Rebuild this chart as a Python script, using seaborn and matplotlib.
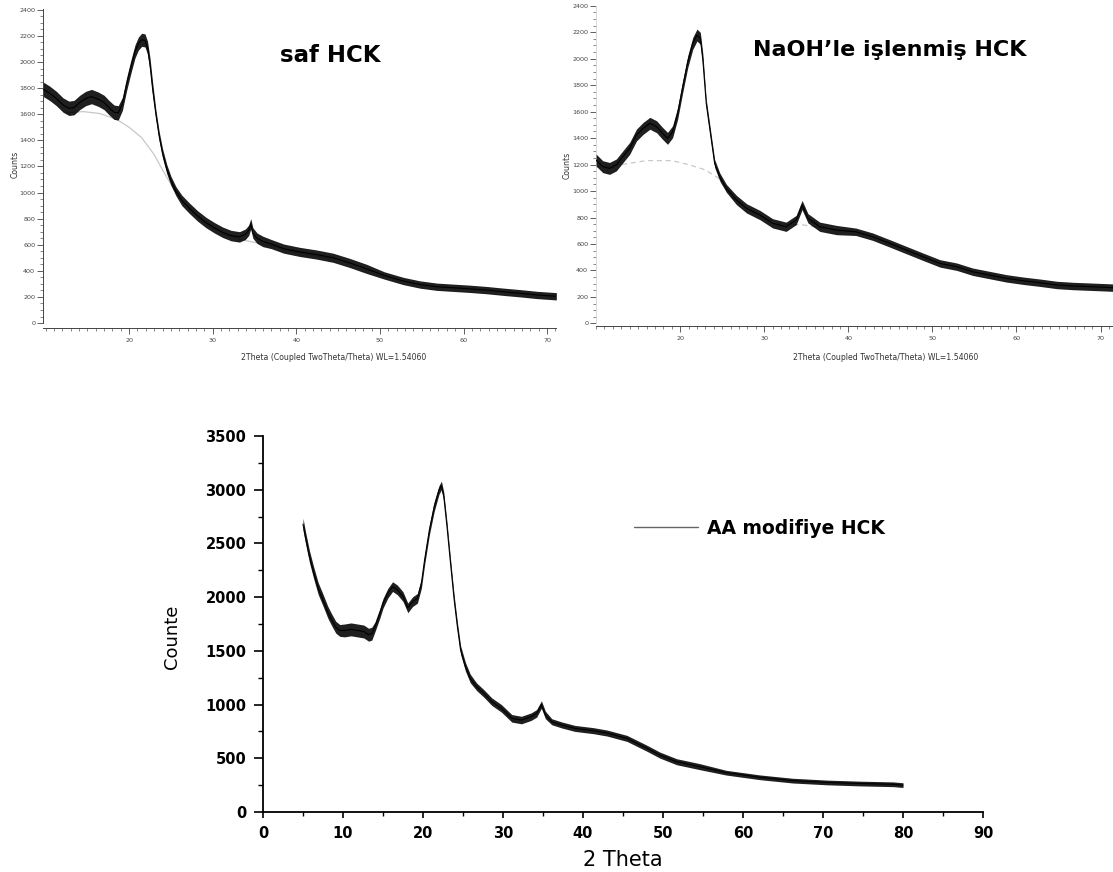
import numpy as np
import pandas as pd
import matplotlib
matplotlib.use("Agg")
import matplotlib.pyplot as plt
import seaborn as sns
from matplotlib.ticker import MultipleLocator, FixedLocator

sns.set_theme(style="white")
plt.rcParams["font.family"] = ["DejaVu Sans"]
plt.rcParams["text.color"] = "black"

# ---------------- data: saf HCK (top left) ----------------
tt_saf = [9.75, 10.5, 11.3, 12.1, 12.8, 13.4, 14.1, 14.8, 15.5, 16.3,
          17.0, 17.6, 18.2, 18.7, 19.2, 19.7, 20.2, 20.7, 21.1, 21.5,
          21.9, 22.2, 22.5, 22.8, 23.2, 23.6, 24.0, 24.5, 25.0, 25.6,
          26.3, 27.2, 28.2, 29.2, 30.2, 31.2, 32.2, 33.2, 33.9, 34.3,
          34.55, 34.8, 35.3, 36.0, 37.0, 38.5, 40.4, 42.4, 44.4, 46.4,
          48.4, 50.5, 52.8, 54.8, 56.8, 58.8, 60.8, 62.8, 64.7, 66.8,
          68.8, 71.1]
counts_saf = [1790, 1760, 1720, 1670, 1645, 1650, 1690, 1720, 1735, 1715,
              1690, 1650, 1615, 1610, 1680, 1830, 1960, 2080, 2140, 2170,
              2165, 2110, 1980, 1800, 1600, 1430, 1300, 1180, 1090, 1010,
              940, 880, 820, 770, 730, 695, 670, 660, 680, 710,
              760, 690, 650, 625, 605, 570, 545, 525, 500, 460,
              415, 365, 322, 295, 278, 270, 262, 252, 240, 228,
              215, 205]
noise_saf = [55, 55, 55, 55, 55, 55, 55, 55, 55, 55,
             55, 55, 55, 55, 50, 50, 50, 50, 50, 50,
             50, 50, 50, 50, 35, 35, 35, 35, 35, 35,
             40, 40, 40, 40, 40, 40, 40, 40, 40, 40,
             40, 40, 40, 40, 35, 35, 35, 35, 35, 35,
             35, 28, 28, 28, 28, 28, 28, 28, 28, 28,
             28, 28]
base_tt_saf = [12.5, 14.5, 16.5, 18.5, 20.0, 21.5, 23.0, 24.2, 25.5, 27.0,
               29.0, 31.0, 33.0, 35.0, 37.0, 40.0, 44.0]
base_saf = [1610, 1620, 1605, 1560, 1500, 1420, 1290, 1150, 1010, 890,
            770, 690, 645, 618, 590, 540, 495]

# ---------------- data: NaOH'le islenmis HCK (top right) ----------------
tt_naoh = [10.0, 10.8, 11.6, 12.4, 13.2, 14.0, 14.8, 15.6, 16.4, 17.2,
           17.9, 18.5, 19.1, 19.7, 20.3, 20.9, 21.5, 22.0, 22.4, 22.7,
           23.1, 23.6, 24.1, 24.7, 25.5, 26.7, 27.9, 29.5, 31.0, 32.6,
           33.8, 34.5, 35.2, 36.6, 38.6, 40.9, 42.9, 44.9, 46.9, 48.9,
           50.9, 52.9, 54.8, 56.8, 58.8, 60.8, 62.8, 64.8, 66.8, 68.8,
           70.7, 71.45]
counts_naoh = [1234, 1184, 1171, 1197, 1260, 1323, 1423, 1474, 1512, 1486,
               1436, 1398, 1448, 1587, 1788, 1977, 2116, 2179, 2154, 1990,
               1663, 1436, 1209, 1108, 1020, 932, 869, 818, 756, 730,
               781, 894, 794, 730, 705, 692, 655, 605, 554, 503,
               453, 428, 390, 365, 340, 322, 307, 290, 282, 277,
               272, 270]
noise_naoh = [45, 45, 45, 45, 45, 45, 45, 45, 45, 45,
              45, 45, 45, 45, 45, 45, 45, 45, 45, 45,
              30, 30, 30, 30, 30, 35, 35, 35, 35, 35,
              35, 35, 35, 35, 35, 28, 28, 28, 28, 28,
              28, 28, 28, 28, 28, 28, 28, 28, 28, 28,
              28, 28]
base_tt_naoh = [10, 13, 16, 19, 21, 23, 24.5, 26, 28, 30, 32, 34.5, 37, 40]
base_naoh = [1180, 1200, 1230, 1230, 1200, 1160, 1100, 960, 860, 800, 750, 745, 720, 690]

# ---------------- data: AA modifiye HCK (bottom) ----------------
tt_aa = [5.0, 5.3, 5.8, 6.3, 6.9, 7.5, 8.1, 8.6, 9.1, 9.6,
         10.2, 11.0, 11.8, 12.6, 13.2, 13.6, 14.0, 14.6, 15.0, 15.6,
         16.2, 16.8, 17.5, 18.1, 18.7, 19.3, 19.8, 20.2, 20.8, 21.4,
         22.0, 22.3, 22.6, 23.0, 23.4, 23.9, 24.3, 24.7, 25.3, 25.9,
         26.7, 27.6, 28.6, 29.8, 31.1, 32.3, 33.5, 34.2, 34.8, 35.3,
         36.1, 37.4, 39.0, 41.3, 43.0, 45.5, 48.0, 49.6, 51.7, 54.6,
         57.9, 62.1, 66.2, 70.5, 74.6, 78.8, 80.0]
counts_aa = [2680, 2560, 2380, 2236, 2080, 1973, 1860, 1787, 1720, 1690,
             1690, 1700, 1690, 1680, 1650, 1660, 1724, 1849, 1942, 2036,
             2098, 2067, 2005, 1900, 1958, 1989, 2129, 2346, 2626, 2843,
             2998, 3040, 2936, 2657, 2346, 1973, 1725, 1508, 1353, 1244,
             1166, 1104, 1027, 965, 872, 856, 887, 918, 1000, 903,
             840, 809, 778, 757, 735, 685, 593, 530, 468, 422,
             366, 323, 292, 275, 265, 258, 250]
noise_aa = [55, 55, 55, 55, 55, 55, 55, 55, 55, 55,
            60, 60, 60, 60, 60, 60, 45, 45, 45, 45,
            45, 45, 45, 45, 45, 45, 45, 45, 45, 45,
            40, 40, 40, 40, 40, 40, 40, 40, 40, 40,
            35, 35, 35, 35, 35, 35, 35, 35, 35, 35,
            28, 28, 28, 28, 28, 28, 28, 28, 28, 28,
            22, 22, 22, 22, 22, 22, 22]

titles = ["saf HCK", "NaOH\u2019le i\u015flenmi\u015f HCK"]
legend_label = "AA modifiye HCK"
top_xlabel = "2Theta (Coupled TwoTheta/Theta) WL=1.54060"
top_xticks = [20, 30, 40, 50, 60, 70]

assert len(tt_saf) == len(counts_saf) == len(noise_saf)
assert len(tt_naoh) == len(counts_naoh) == len(noise_naoh)
assert len(tt_aa) == len(counts_aa) == len(noise_aa)

W, H = 1113, 872
fig = plt.figure(figsize=(W / 100, H / 100), dpi=100)
ax1 = fig.add_axes([43 / W, 1 - 328 / H, 513 / W, 318.5 / H])
ax2 = fig.add_axes([596 / W, 1 - 325.6 / H, 517 / W, 319.8 / H])
ax3 = fig.add_axes([263 / W, 1 - 812 / H, 720 / W, 376 / H])


def draw_band(ax, tt, cc, nn, lw):
    df = pd.DataFrame({"tt": tt, "cc": cc, "nn": nn})
    ax.fill_between(df["tt"], df["cc"] - df["nn"], df["cc"] + df["nn"],
                    color="black", lw=0, alpha=0.88, zorder=3)
    sns.lineplot(data=df, x="tt", y="cc", ax=ax, color="black", lw=lw,
                 estimator=None, sort=False, legend=False, zorder=4)


# ---------- top panels ----------
for ax, tt, cc, nn, btt, bb, xl, yl in [
        (ax1, tt_saf, counts_saf, noise_saf, base_tt_saf, base_saf,
         (9.70, 71.06), (-38, 2402)),
        (ax2, tt_naoh, counts_naoh, noise_naoh, base_tt_naoh, base_naoh,
         (9.99, 71.48), (-17, 2400))]:
    sns.lineplot(x=btt, y=bb, ax=ax, color="#c8c8c8", lw=0.9,
                 estimator=None, sort=False, legend=False, zorder=2,
                 linestyle="-" if ax is ax1 else (0, (4, 3)))
    draw_band(ax, tt, cc, nn, 0.8)
    ax.set_xlim(*xl)
    ax.set_ylim(*yl)
    ax.xaxis.set_major_locator(FixedLocator(top_xticks))
    ax.xaxis.set_minor_locator(MultipleLocator(1))
    ax.yaxis.set_major_locator(MultipleLocator(200))
    ax.yaxis.set_minor_locator(MultipleLocator(50))
    ax.tick_params(axis="both", which="major", direction="out", length=4,
                   width=0.6, color="#444", labelsize=4.6, labelcolor="#444",
                   bottom=True, left=True, pad=1.6)
    ax.tick_params(axis="both", which="minor", direction="out", length=2,
                   width=0.5, color="#555", bottom=True, left=True)
    ax.tick_params(axis="x", which="major", pad=3.5)
    for s in ["top", "right"]:
        ax.spines[s].set_visible(False)
    ax.spines["bottom"].set_color("#444")
    ax.spines["bottom"].set_linewidth(0.7)
    ax.spines["left"].set_color("#444")
    ax.spines["left"].set_linewidth(0.7)
    ax.spines["left"].set_bounds(0, yl[1])
    ax.set_xlabel(top_xlabel, fontsize=5.6, color="#333", va="center")
    ax.set_ylabel("Counts", fontsize=5.6, color="#333", va="center")
    ax.grid(False)

ax2.spines["left"].set_color("#d8d8d8")
ax1.xaxis.set_label_coords(0.567, -0.094)
ax2.xaxis.set_label_coords(0.561, -0.101)
ax1.yaxis.set_label_coords(-0.055, 0.513)
ax2.yaxis.set_label_coords(-0.056, 0.502)

fig.text(330 / W, 1 - 55.5 / H, titles[0], ha="center", va="center",
         fontsize=16.5, fontweight="bold", color="black")
fig.text(890 / W, 1 - 50 / H, titles[1], ha="center", va="center",
         fontsize=16, fontweight="bold", color="black")

# ---------- bottom panel ----------
df_aa = pd.DataFrame({"tt": tt_aa, "cc": counts_aa, "nn": noise_aa})
ax3.fill_between(df_aa["tt"], df_aa["cc"] - df_aa["nn"], df_aa["cc"] + df_aa["nn"],
                 color="black", lw=0, alpha=0.88, zorder=3)
sns.lineplot(data=df_aa, x="tt", y="cc", ax=ax3, color="black", lw=0.8,
             estimator=None, sort=False, label=legend_label, zorder=4)
ax3.set_xlim(0, 90)
ax3.set_ylim(0, 3500)
ax3.xaxis.set_major_locator(MultipleLocator(10))
ax3.xaxis.set_minor_locator(MultipleLocator(5))
ax3.yaxis.set_major_locator(MultipleLocator(500))
ax3.yaxis.set_minor_locator(MultipleLocator(250))
ax3.tick_params(axis="y", which="major", direction="out", length=6.5, width=1.2,
                color="black", labelsize=10.5, labelcolor="black", left=True, pad=5.5)
ax3.tick_params(axis="y", which="minor", direction="out", length=3.6, width=1.0,
                color="black", left=True)
ax3.tick_params(axis="x", which="major", direction="out", length=4.5, width=1.2,
                color="black", labelsize=10.5, labelcolor="black", bottom=True, pad=5.5)
ax3.tick_params(axis="x", which="minor", direction="out", length=3.0, width=1.0,
                color="black", bottom=True)
for lab in ax3.get_xticklabels() + ax3.get_yticklabels():
    lab.set_fontweight("bold")
for s in ["top", "right"]:
    ax3.spines[s].set_visible(False)
for s in ["left", "bottom"]:
    ax3.spines[s].set_color("black")
    ax3.spines[s].set_linewidth(1.3)
ax3.grid(False)
ax3.set_xlabel("2 Theta", fontsize=15, color="black", va="center")
ax3.set_ylabel("Counte", fontsize=13, color="black", va="center")
ax3.xaxis.set_label_coords(0.5, -0.1277)
ax3.yaxis.set_label_coords(-0.1264, 0.4654)

leg = ax3.legend(loc="center left", bbox_to_anchor=(0.515, 0.755), frameon=False,
                 handlelength=3.4, handletextpad=0.5, borderpad=0, borderaxespad=0,
                 prop={"weight": "bold", "size": 13.5})
for ln in leg.get_lines():
    ln.set_color("#666666")
    ln.set_linewidth(1.0)
for t in leg.get_texts():
    t.set_color("black")

fig.savefig("out.png", dpi=100)
